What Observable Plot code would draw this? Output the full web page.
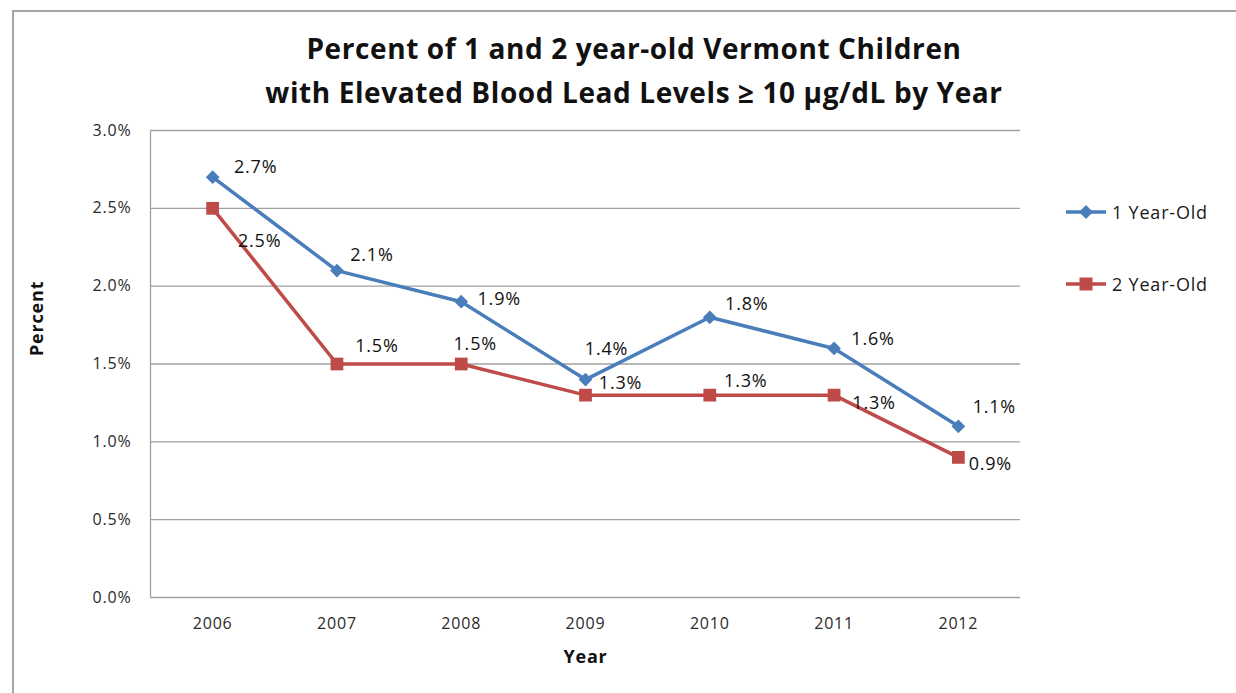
<!DOCTYPE html>
<html>
<head>
<meta charset="utf-8">
<script src="https://cdn.jsdelivr.net/npm/d3@7"></script>
<script src="https://cdn.jsdelivr.net/npm/@observablehq/plot@0.6"></script>
<style>
  html, body { margin: 0; padding: 0; background: #fff; overflow: hidden; }
  #wrap { position: relative; width: 1236px; height: 693px; overflow: hidden; font-family: "Open Sans", sans-serif; }
  #border { position: absolute; left: 12px; top: 10px; width: 1500px; height: 900px;
            border-left: 2px solid #a6a6a6; border-top: 2px solid #a6a6a6; }
  .title { position: absolute; left: 0; width: 1268px; text-align: center; font-weight: 700;
           font-size: 28px; color: #111; letter-spacing: 0.6px; line-height: 36px; }
  .legend { position: absolute; left: 1064px; display: flex; align-items: center;
            font-size: 18px; color: #1a1a1a; letter-spacing: 0.8px; }
  .legend svg { margin-right: 4px; }
  #chart { position: absolute; left: 0; top: 0; }
</style>
</head>
<body>
<div id="wrap">
  <div id="border"></div>
  <div id="chart"></div>
  <div class="title" style="top:30px">Percent of 1 and 2 year-old Vermont Children</div>
  <div class="title" style="top:74px">with Elevated Blood Lead Levels ≥ 10 µg/dL by Year</div>
  <div class="legend" id="leg1" style="top:200px"></div>
  <div class="legend" id="leg2" style="top:272px"></div>
</div>
<script>
// Survey years and the share of children with elevated blood lead levels
const years = [2006, 2007, 2008, 2009, 2010, 2011, 2012];
const oneYearOld = [0.027, 0.021, 0.019, 0.014, 0.018, 0.016, 0.011];
const twoYearOld = [0.025, 0.015, 0.015, 0.013, 0.013, 0.013, 0.009];
const seriesNames = ["1 Year-Old", "2 Year-Old"];
const yTicks = [0, 0.005, 0.01, 0.015, 0.02, 0.025, 0.03];

// Placement of each value label relative to its point (pixels)
const labelOffsets1 = [[43, -10], [35, -15], [38, -2], [21, -30], [37, -13], [39, -9], [36, -19]];
const labelOffsets2 = [[47, 33], [40, -18], [14, -20], [35, -12], [36, -14], [40, 8], [32, 7]];

const blue = "#4a7ebb";
const red = "#be4b48";
const grid = "#a0a0a0";

const rows1 = years.map((year, i) => ({year, value: oneYearOld[i], dx: labelOffsets1[i][0], dy: labelOffsets1[i][1]}));
const rows2 = years.map((year, i) => ({year, value: twoYearOld[i], dx: labelOffsets2[i][0], dy: labelOffsets2[i][1]}));

const pct = d3.format(".1%");

function valueLabels(rows) {
  return rows.map(r => Plot.text([r], {
    x: "year", y: "value", text: d => pct(d.value),
    dx: r.dx, dy: r.dy, fontSize: 18, fill: "#111"
  }));
}

const chart = Plot.plot({
  width: 1236,
  height: 693,
  marginLeft: 150,
  marginRight: 216,
  marginTop: 130,
  marginBottom: 96,
  style: {fontFamily: "Open Sans, sans-serif", fontSize: "16px", color: "#333", background: "transparent", overflow: "visible", letterSpacing: "0.8px"},
  x: {domain: [2005.5, 2012.5]},
  y: {domain: [0, 0.03]},
  marks: [
    Plot.gridY(yTicks, {stroke: grid, strokeOpacity: 1, strokeWidth: 1.3}),
    Plot.ruleX([2005.5], {stroke: grid, strokeWidth: 1.3}),
    Plot.axisY(yTicks, {tickSize: 0, tickPadding: 19, tickFormat: pct, label: null, fontSize: 16, fill: "#2a2a2a"}),
    Plot.axisX(years, {tickSize: 0, tickPadding: 20, tickFormat: d => String(d), label: null, fontSize: 16, fill: "#2a2a2a"}),
    Plot.text(["Percent"], {frameAnchor: "left", dx: -113, dy: -8, rotate: -90, fontWeight: "bold", fontSize: 18, fill: "#111"}),
    Plot.text(["Year"], {frameAnchor: "bottom", dy: 65, fontWeight: "bold", fontSize: 18, fill: "#111"}),
    Plot.line(rows2, {x: "year", y: "value", stroke: red, strokeWidth: 3.5}),
    Plot.line(rows1, {x: "year", y: "value", stroke: blue, strokeWidth: 3.5}),
    Plot.dot(rows2, {x: "year", y: "value", symbol: "square", r: 7.2, fill: red, stroke: "none"}),
    Plot.dot(rows1, {x: "year", y: "value", symbol: "diamond2", r: 6.2, fill: blue, stroke: "none"}),
    ...valueLabels(rows1),
    ...valueLabels(rows2)
  ]
});
document.getElementById("chart").appendChild(chart);

// Legend entries: line with marker, then series name
function legendSwatch(color, shape) {
  const marker = shape === "diamond"
    ? `<path d="M22,3 L29,10 L22,17 L15,10 Z" fill="${color}"/>`
    : `<rect x="15.5" y="3.5" width="13" height="13" fill="${color}"/>`;
  return `<svg width="44" height="20"><line x1="2" x2="42" y1="10" y2="10" stroke="${color}" stroke-width="3.5"/>${marker}</svg>`;
}
document.getElementById("leg1").innerHTML = legendSwatch(blue, "diamond") + `<span>${seriesNames[0]}</span>`;
document.getElementById("leg2").innerHTML = legendSwatch(red, "square") + `<span>${seriesNames[1]}</span>`;
</script>
</body>
</html>
